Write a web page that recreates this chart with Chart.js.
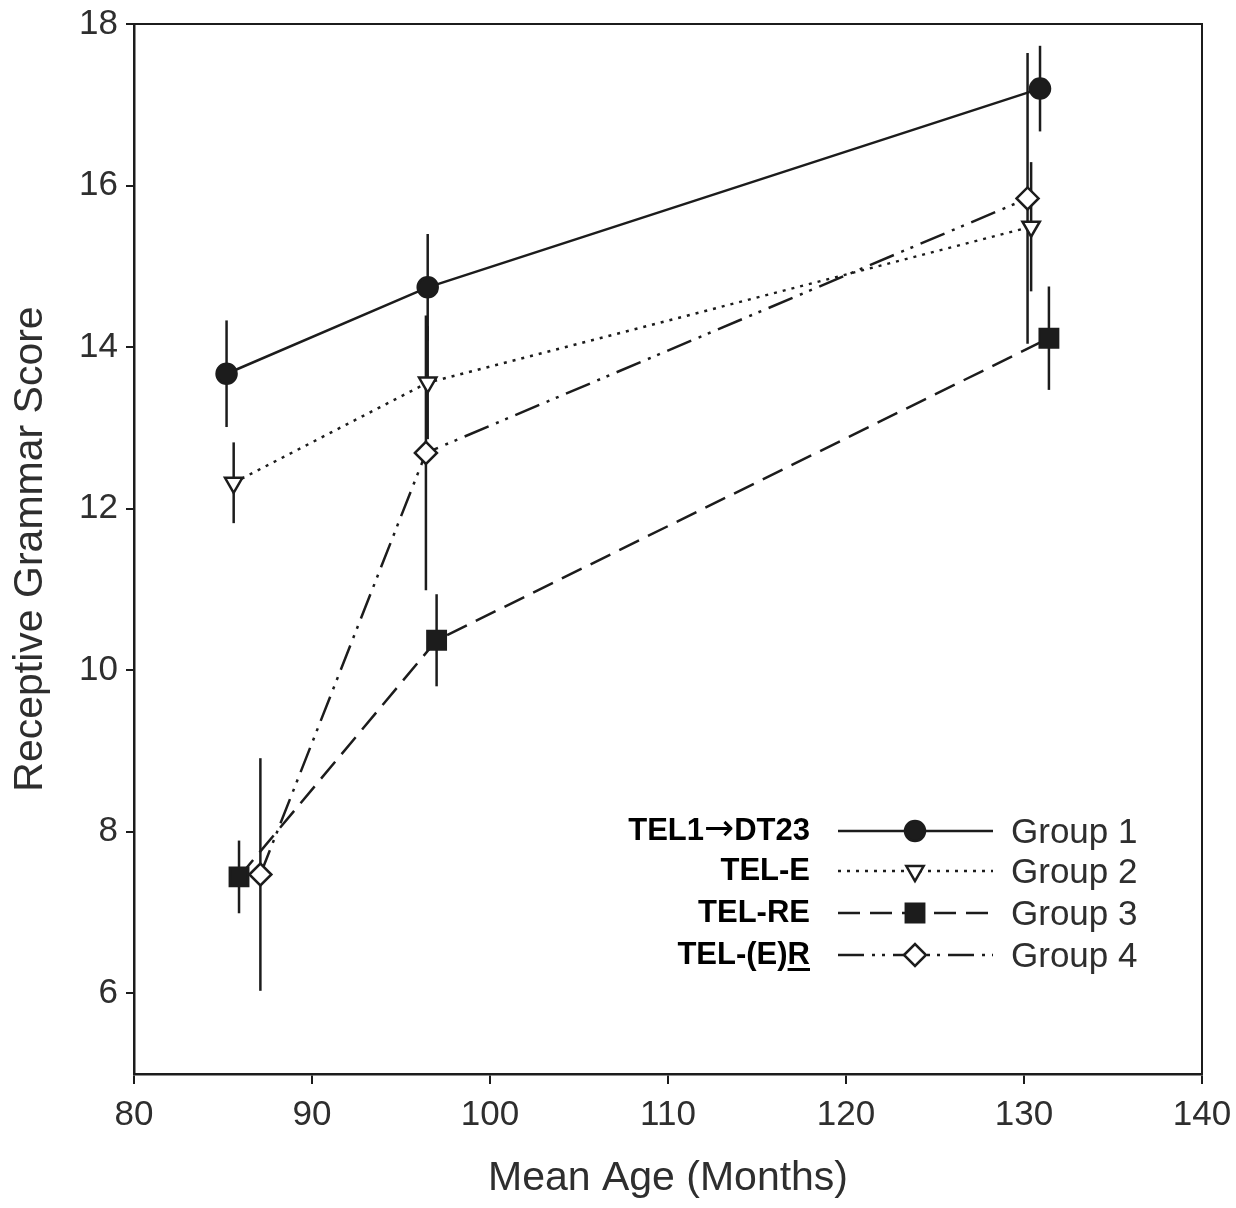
<!DOCTYPE html>
<html>
<head>
<meta charset="utf-8">
<script src="https://cdn.jsdelivr.net/npm/chart.js@4.4.1/dist/chart.umd.min.js"></script>
<style>
  html, body { margin: 0; padding: 0; background: #fff; }
  #wrap { width: 1236px; height: 1208px; }
</style>
</head>
<body>
<div id="wrap"><canvas id="myChart" width="1236" height="1208"></canvas></div>
<script>
// data
const groupNames = ["Group 1", "Group 2", "Group 3", "Group 4"];
const groupCodes = ["TEL1\u2192DT23", "TEL-E", "TEL-RE", "TEL-(E)R"];

const g1Age = [85.2, 96.5, 130.9];
const g1Score = [13.67, 14.74, 17.2];
const g1Err = [0.66, 0.66, 0.53];

const g2Age = [85.6, 96.5, 130.4];
const g2Score = [12.32, 13.56, 15.49];
const g2Err = [0.5, 0.7, 0.8];

const g3Age = [85.9, 97.0, 131.4];
const g3Score = [7.44, 10.37, 14.11];
const g3Err = [0.45, 0.57, 0.64];

const g4Age = [87.1, 96.4, 130.2];
const g4Score = [7.47, 12.69, 15.84];
const g4Err = [1.44, 1.7, 1.8];

const xTicks = [80, 90, 100, 110, 120, 130, 140];
const yTicks = [6, 8, 10, 12, 14, 16, 18];

const INK = "#1c1c1c";
const TXT = "#2e2e2e";
const FONT = "'Liberation Sans', Arial, sans-serif";

function pts(ages, scores) {
  return ages.map((a, i) => ({ x: a, y: scores[i] }));
}

function series(label, ages, scores, errs, style) {
  return Object.assign(
    {
      label: label,
      data: pts(ages, scores),
      errs: errs,
      showLine: true,
      borderColor: INK,
      borderWidth: 2.5,
      pointBorderColor: INK,
      pointBorderWidth: 2.5,
      tension: 0,
    },
    style
  );
}

const datasets = [
  series(groupNames[0], g1Age, g1Score, g1Err, {
    pointStyle: "circle",
    pointRadius: 10,
    pointBackgroundColor: INK,
    borderDash: [],
  }),
  series(groupNames[1], g2Age, g2Score, g2Err, {
    pointStyle: "triangle",
    pointRotation: 180,
    pointRadius: 10,
    pointBackgroundColor: "#fff",
    borderDash: [3, 6],
  }),
  series(groupNames[2], g3Age, g3Score, g3Err, {
    pointStyle: "rect",
    pointRadius: 13,
    pointBackgroundColor: INK,
    borderDash: [22, 10],
  }),
  series(groupNames[3], g4Age, g4Score, g4Err, {
    pointStyle: "rectRot",
    pointRadius: 11,
    pointBackgroundColor: "#fff",
    borderDash: [26, 8, 3, 7, 3, 8],
  }),
];

// vertical error bars, no caps
const errorBars = {
  id: "errorBars",
  beforeDatasetsDraw(chart) {
    const { ctx, scales } = chart;
    ctx.save();
    ctx.strokeStyle = INK;
    ctx.lineWidth = 2.5;
    chart.data.datasets.forEach((ds) => {
      ds.data.forEach((p, i) => {
        const x = scales.x.getPixelForValue(p.x);
        const y1 = scales.y.getPixelForValue(p.y - ds.errs[i]);
        const y2 = scales.y.getPixelForValue(p.y + ds.errs[i]);
        ctx.beginPath();
        ctx.moveTo(x, y1);
        ctx.lineTo(x, y2);
        ctx.stroke();
      });
    });
    ctx.restore();
  },
};

// top and right edges of the box
const frame = {
  id: "frame",
  afterDraw(chart) {
    const { ctx, chartArea: a } = chart;
    ctx.save();
    ctx.strokeStyle = INK;
    ctx.lineWidth = 2;
    ctx.beginPath();
    ctx.moveTo(a.left, a.top);
    ctx.lineTo(a.right, a.top);
    ctx.lineTo(a.right, a.bottom);
    ctx.stroke();
    ctx.restore();
  },
};

// draws a code label right-aligned at xr, with a longer thin arrow glyph
function drawCode(ctx, text, xr, y) {
  const parts = text.split("\u2192");
  ctx.textAlign = "left";
  ctx.textBaseline = "middle";
  const bold = "bold 31px " + FONT;
  const arrowFont = "36px 'DejaVu Sans', " + FONT;
  if (parts.length === 1) {
    ctx.font = bold;
    ctx.fillText(text, xr - ctx.measureText(text).width, y);
    return;
  }
  ctx.font = bold;
  const wA = ctx.measureText(parts[0]).width;
  const wB = ctx.measureText(parts[1]).width;
  ctx.font = arrowFont;
  const wArr = ctx.measureText("\u2192").width;
  let x = xr - wB - wArr - wA;
  ctx.font = bold;
  ctx.fillText(parts[0], x, y);
  x += wA;
  ctx.font = arrowFont;
  ctx.fillText("\u2192", x, y);
  x += wArr;
  ctx.font = bold;
  ctx.fillText(parts[1], x, y);
}

// legend inside the plot, codes on the left, group names on the right
const insideLegend = {
  id: "insideLegend",
  afterDraw(chart) {
    const { ctx } = chart;
    const rows = [831, 871, 913, 955];
    const lineL = 838, lineR = 993, mark = 915;
    ctx.save();
    chart.data.datasets.forEach((ds, i) => {
      const y = rows[i];
      // line sample
      ctx.strokeStyle = INK;
      ctx.lineWidth = 2.5;
      ctx.setLineDash(ds.borderDash);
      ctx.beginPath();
      ctx.moveTo(lineL, y);
      ctx.lineTo(lineR, y);
      ctx.stroke();
      ctx.setLineDash([]);
      ctx.fillStyle = ds.pointBackgroundColor;
      ctx.strokeStyle = INK;
      ctx.lineWidth = 2.5;
      Chart.helpers.drawPoint(
        ctx,
        {
          pointStyle: ds.pointStyle,
          rotation: ds.pointRotation || 0,
          radius: ds.pointRadius,
          borderWidth: 2.5,
        },
        mark,
        y
      );
      // group name
      ctx.fillStyle = TXT;
      ctx.font = "35px " + FONT;
      ctx.textAlign = "left";
      ctx.textBaseline = "middle";
      ctx.fillText(ds.label, 1011, y + 2);
      // code label
      ctx.fillStyle = "#000";
      drawCode(ctx, groupCodes[i], 810, y);
    });
    // underline the final R of TEL-(E)R
    const last = groupCodes[3];
    ctx.font = "bold 31px " + FONT;
    const wR = ctx.measureText(last.slice(-1)).width;
    ctx.fillStyle = "#000";
    ctx.fillRect(810 - wR, rows[3] + 13, wR, 3);
    ctx.restore();
  },
};

new Chart(document.getElementById("myChart"), {
  type: "scatter",
  data: { datasets: datasets },
  options: {
    responsive: false,
    animation: false,
    layout: { padding: { top: 24, right: 34, left: 0, bottom: 0 } },
    plugins: {
      legend: { display: false },
      tooltip: { enabled: false },
    },
    scales: {
      x: {
        type: "linear",
        min: 80,
        max: 140,
        afterFit(scale) {
          scale.height = 134;
          scale.paddingLeft = 0;
          scale.paddingRight = 0;
        },
        afterBuildTicks(scale) {
          scale.ticks = xTicks.map((v) => ({ value: v }));
        },
        ticks: {
          color: TXT,
          padding: 10,
          maxRotation: 0,
          font: { size: 35, family: FONT },
        },
        grid: {
          drawOnChartArea: false,
          drawTicks: true,
          tickLength: 10,
          color: INK,
          lineWidth: 2,
        },
        border: { display: true, color: INK, width: 2.5 },
        title: {
          display: true,
          text: "Mean Age (Months)",
          color: TXT,
          padding: { top: 0, bottom: 5 },
          font: { size: 41, family: FONT },
        },
      },
      y: {
        type: "linear",
        min: 5,
        max: 18,
        afterFit(scale) {
          scale.width = 134;
          scale.paddingTop = 0;
          scale.paddingBottom = 0;
        },
        afterBuildTicks(scale) {
          scale.ticks = yTicks.map((v) => ({ value: v }));
        },
        ticks: {
          color: TXT,
          padding: 8,
          font: { size: 35, family: FONT },
        },
        grid: {
          drawOnChartArea: false,
          drawTicks: true,
          tickLength: 8,
          color: INK,
          lineWidth: 2,
        },
        border: { display: true, color: INK, width: 2.5 },
        title: {
          display: true,
          text: "Receptive Grammar Score",
          color: TXT,
          padding: { top: 6, bottom: 0 },
          font: { size: 41, family: FONT },
        },
      },
    },
  },
  plugins: [errorBars, frame, insideLegend],
});
</script>
</body>
</html>
